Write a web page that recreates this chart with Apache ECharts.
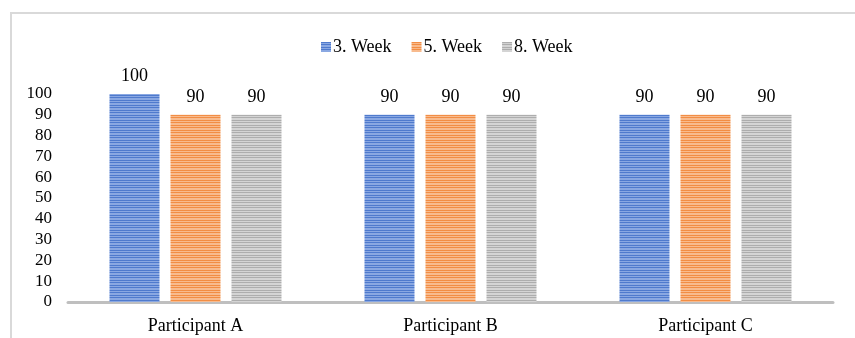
<!DOCTYPE html>
<html>
<head>
<meta charset="utf-8">
<script src="https://cdn.jsdelivr.net/npm/echarts@6/dist/echarts.min.js"></script>
<style>
  html, body { margin: 0; padding: 0; background: #fff; }
  #chart { width: 855px; height: 338px; }
</style>
</head>
<body>
<div id="chart"></div>
<script>
// Categories and series values
const participants = ['Participant A', 'Participant B', 'Participant C'];
const seriesNames = ['3. Week', '5. Week', '8. Week'];
const week3 = [100, 90, 90];
const week5 = [90, 90, 90];
const week8 = [90, 90, 90];
const yTicks = [0, 10, 20, 30, 40, 50, 60, 70, 80, 90, 100];

// Horizontal stripe fill: alternating darker and lighter rows
function stripes(dark, light) {
  const c = document.createElement('canvas');
  c.width = 4; c.height = 5;
  const ctx = c.getContext('2d');
  const rows = [dark, light, dark, light, light];
  rows.forEach((col, i) => { ctx.fillStyle = col; ctx.fillRect(0, i, 4, 1); });
  return { image: c, repeat: 'repeat' };
}

const fills = [
  stripes('#4f7acd', '#8aa8e2'),
  stripes('#f28d44', '#f8bb8e'),
  stripes('#adadad', '#d4d4d4')
];
const values = [week3, week5, week8];

const font = '"Liberation Serif", "Times New Roman", serif';

const chart = echarts.init(document.getElementById('chart'));
chart.setOption({
  animation: false,
  textStyle: { fontFamily: font },
  graphic: [{
    type: 'rect',
    shape: { x: 11, y: 13, width: 900, height: 400 },
    style: { fill: 'none', stroke: '#d9d9d9', lineWidth: 2 },
    silent: true
  }],
  legend: {
    top: 33,
    left: 316,
    icon: 'rect',
    itemWidth: 10,
    itemHeight: 10,
    itemGap: 20,
    textStyle: { fontFamily: font, fontSize: 18, color: '#000', padding: [0, 0, 0, -3] },
    data: seriesNames
  },
  grid: { left: 68, right: 22, top: 94, bottom: 36 },
  xAxis: {
    type: 'category',
    data: participants,
    axisLine: { lineStyle: { color: '#bfbfbf', width: 3 } },
    axisTick: { show: false },
    axisLabel: { fontFamily: font, fontSize: 18, color: '#000', margin: 15 }
  },
  yAxis: {
    type: 'value',
    min: yTicks[0],
    max: yTicks[yTicks.length - 1],
    interval: 10,
    splitLine: { show: false },
    axisLine: { show: false },
    axisTick: { show: false },
    axisLabel: { fontFamily: font, fontSize: 17, color: '#000', margin: 16 }
  },
  series: seriesNames.map((name, i) => ({
    name: name,
    type: 'bar',
    data: values[i],
    barWidth: 50,
    barGap: '22%',
    itemStyle: { color: fills[i] },
    label: {
      show: true,
      position: 'top',
      distance: 9,
      fontFamily: font,
      fontSize: 18,
      color: '#000'
    }
  }))
});
</script>
</body>
</html>
